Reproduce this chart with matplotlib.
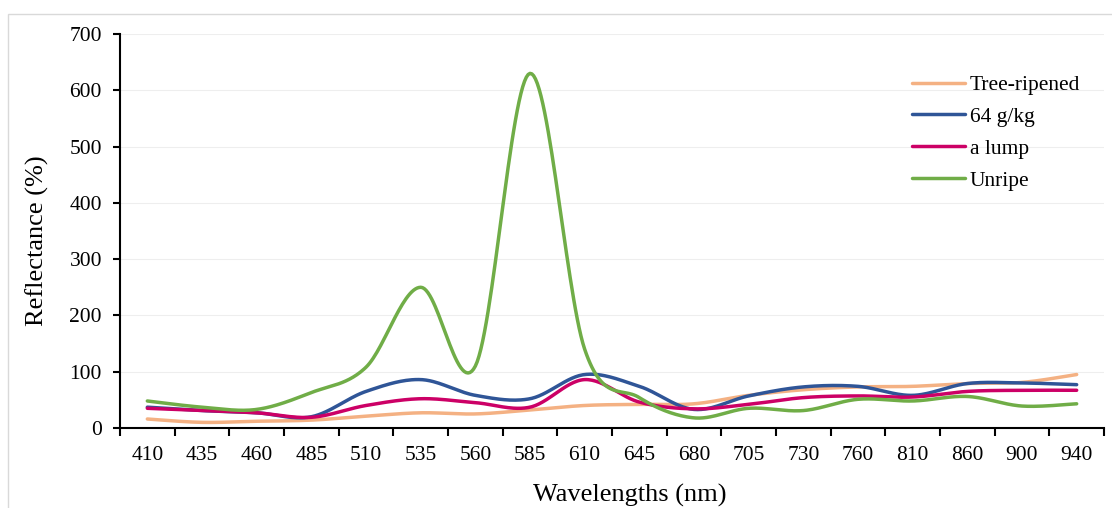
import numpy as np
import matplotlib
matplotlib.use("Agg")
import matplotlib.pyplot as plt
from matplotlib.patches import Rectangle

wavelengths = ["410", "435", "460", "485", "510", "535", "560", "585", "610",
               "645", "680", "705", "730", "760", "810", "860", "900", "940"]
tree_ripened = [16, 10, 12, 14, 21, 27, 25, 32, 40, 42, 43, 58, 68, 73, 74, 79, 81, 95]
g64_kg = [37, 31, 27, 20, 65, 86, 58, 52, 95, 74, 33, 57, 73, 74, 58, 79, 80, 77]
a_lump = [35, 31, 27, 19, 40, 52, 45, 37, 86, 46, 34, 42, 54, 57, 55, 65, 67, 67]
unripe = [48, 37, 33, 63, 108, 250, 110, 630, 140, 54, 18, 35, 31, 51, 48, 56, 39, 43]

series = [("Tree-ripened", tree_ripened, "#F4B183"),
          ("64 g/kg", g64_kg, "#2F5597"),
          ("a lump", a_lump, "#CC0066"),
          ("Unripe", unripe, "#70AD47")]


def smooth(x, y, n=30):
    x = np.asarray(x, float)
    y = np.asarray(y, float)
    P = np.column_stack([x, y])
    pts = []
    for i in range(len(P) - 1):
        p0 = P[i - 1] if i > 0 else P[i]
        p1 = P[i]
        p2 = P[i + 1]
        p3 = P[i + 2] if i + 2 < len(P) else P[i + 1]
        c1 = p1 + (p2 - p0) / 6.0
        c2 = p2 - (p3 - p1) / 6.0
        t = np.linspace(0, 1, n, endpoint=False)[:, None]
        b = ((1 - t) ** 3) * p1 + 3 * ((1 - t) ** 2) * t * c1 + 3 * (1 - t) * t ** 2 * c2 + t ** 3 * p2
        pts.append(b)
    pts.append(P[-1:])
    pts = np.vstack(pts)
    return pts[:, 0], pts[:, 1]


plt.rcParams['font.family'] = ['Liberation Serif', 'DejaVu Serif']

fig = plt.figure(figsize=(11.12, 5.08), dpi=100)
fig.patches.append(Rectangle((8 / 1112, -0.1), 1.2, 1 - 14 / 508 + 0.1,
                             transform=fig.transFigure, fill=False,
                             edgecolor="#D9D9D9", linewidth=1.0))
ax = fig.add_axes([120 / 1112, 1 - 428 / 508, (1104 - 120) / 1112, (428 - 34) / 508])

xs = np.arange(len(wavelengths))
for name, vals, col in series:
    sx, sy = smooth(xs, vals)
    ax.plot(sx, sy, color=col, linewidth=2.5, label=name, solid_capstyle='round')

ax.set_xlim(-0.5, len(wavelengths) - 0.5)
ax.set_ylim(0, 700)
ax.set_yticks(np.arange(0, 701, 100))
ax.set_xticks(xs)
ax.set_xticklabels(wavelengths)
ax.set_xticks(np.arange(-0.5, len(wavelengths), 1.0), minor=True)
ax.tick_params(axis='x', which='major', length=0, pad=13, labelsize=15.5)
ax.tick_params(axis='x', which='minor', length=6, width=1.5, direction='out')
ax.tick_params(axis='y', length=5, width=1.5, direction='out', labelsize=15.5, pad=8)
ax.grid(axis='y', color='#EEEEEE', linewidth=0.8)
ax.set_axisbelow(True)
for s in ['top', 'right']:
    ax.spines[s].set_visible(False)
for s in ['left', 'bottom']:
    ax.spines[s].set_linewidth(1.5)

ax.set_xlabel("Wavelengths (nm)", fontsize=19, labelpad=12)
ax.set_ylabel("Reflectance (%)", fontsize=19, labelpad=14)
ax.xaxis.set_label_coords((630 - 120) / (1104 - 120), -0.1427)
ax.yaxis.set_label_coords(-0.0718, (428 - 241) / (428 - 34))

leg = ax.legend(loc='upper left', bbox_to_anchor=(0.785, 0.945), frameon=False,
                fontsize=15.5, handlelength=2.45, handletextpad=0.25, labelspacing=0.55)

fig.savefig("out.png", dpi=100)
